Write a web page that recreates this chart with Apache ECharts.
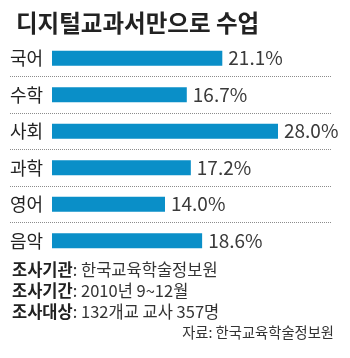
<!DOCTYPE html>
<html>
<head>
<meta charset="utf-8">
<script src="https://cdn.jsdelivr.net/npm/echarts@6/dist/echarts.min.js"></script>
<style>
  html, body { margin: 0; padding: 0; background: #fff; }
  #chart { width: 350px; height: 358px; }
</style>
</head>
<body>
<div id="chart"></div>
<script>
// Share of classes taught with digital textbooks only, by subject (%)
const subjects = ['국어', '수학', '사회', '과학', '영어', '음악'];
const shares = [21.1, 16.7, 28.0, 17.2, 14.0, 18.6];

const titleText = '디지털교과서만으로 수업';
const footnotes = [
  ['조사기관', ': 한국교육학술정보원'],
  ['조사기간', ': 2010년 9~12월'],
  ['조사대상', ': 132개교 교사 357명']
];
const sourceText = '자료: 한국교육학술정보원';

const FONT = '"Noto Sans CJK KR", "Noto Sans", sans-serif';
const BAR = '#0a8fc8';

const chart = echarts.init(document.getElementById('chart'), null, { renderer: 'canvas' });

const gridTop = 40, gridHeight = 219;

const footY = [271, 292, 313];

chart.setOption({
  animation: false,
  backgroundColor: '#fff',
  title: {
    text: titleText,
    left: 11,
    top: 6,
    textStyle: { fontFamily: FONT, fontSize: 23.5, fontWeight: 'bold', color: '#222' }
  },
  grid: [
    // wide grid carrying only the dotted row separators
    { left: 10, right: 18, top: gridTop, height: gridHeight },
    // bar grid
    { left: 52, width: 226, top: gridTop, height: gridHeight }
  ],
  xAxis: [
    { gridIndex: 0, type: 'value', min: 0, max: 1, show: false },
    { gridIndex: 1, type: 'value', min: 0, max: 28, show: false }
  ],
  yAxis: [
    {
      gridIndex: 0, type: 'category', data: subjects, inverse: true,
      axisLine: { show: false }, axisTick: { show: false }, axisLabel: { show: false },
      splitLine: {
        show: true, showMinLine: false, showMaxLine: false,
        lineStyle: { type: [1, 1], color: '#8c8c8c', width: 1 }
      }
    },
    {
      gridIndex: 1, type: 'category', data: subjects, inverse: true,
      axisLine: { show: false }, axisTick: { show: false }, splitLine: { show: false },
      axisLabel: { margin: 9, fontFamily: FONT, fontSize: 18, color: '#222' }
    }
  ],
  series: [{
    type: 'bar',
    xAxisIndex: 1,
    yAxisIndex: 1,
    data: shares,
    barWidth: 15,
    itemStyle: { color: BAR },
    label: {
      show: true,
      position: 'right',
      distance: 6,
      fontFamily: FONT,
      fontSize: 19,
      color: '#3a3a3a',
      formatter: p => p.value.toFixed(1) + '%'
    }
  }],
  graphic: footnotes.map((f, i) => ({
    type: 'text',
    left: 12,
    top: footY[i] - 10,
    style: {
      text: '{b|' + f[0] + '}{n|' + f[1] + '}',
      rich: {
        b: { fontFamily: FONT, fontSize: 16.5, fontWeight: 'bold', fill: '#222' },
        n: { fontFamily: FONT, fontSize: 16.5, fill: '#333' }
      }
    }
  })).concat([{
    type: 'text',
    right: 16,
    top: 325,
    style: { text: sourceText, fontFamily: FONT, fontSize: 14.3, fill: '#333' }
  }])
});
</script>
</body>
</html>
